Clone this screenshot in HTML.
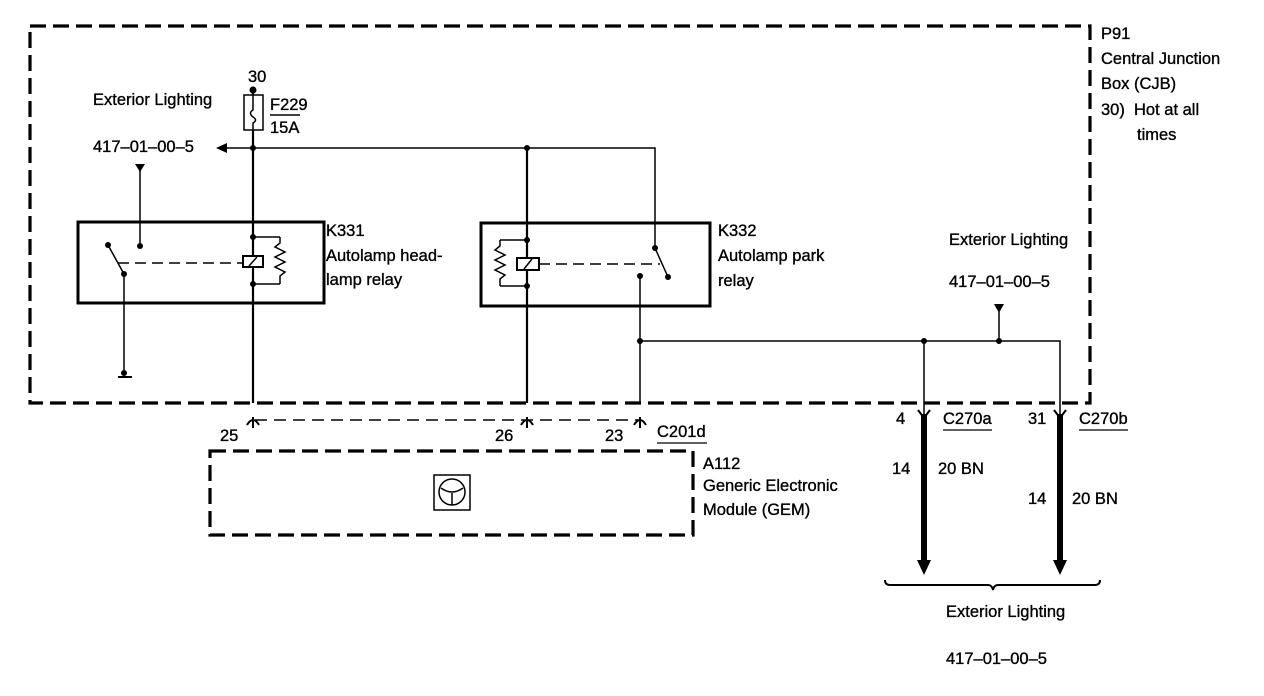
<!DOCTYPE html>
<html><head><meta charset="utf-8"><style>
html,body{margin:0;padding:0;background:#fff;}
svg{display:block;}
text{font-family:"Liberation Sans",Arial,sans-serif;font-size:16.5px;fill:#000;stroke:#000;stroke-width:0.35;}
</style></head><body>
<svg width="1264" height="696" viewBox="0 0 1264 696" xmlns="http://www.w3.org/2000/svg">
<g fill="none" stroke="#000">
<rect x="30" y="26" width="1060" height="377" stroke-width="3.2" stroke-dasharray="16,7"/>
<rect x="210" y="451" width="483" height="84" stroke-width="3.2" stroke-dasharray="16,7"/>
<rect x="78" y="222" width="246" height="81" stroke-width="3"/>
<rect x="481" y="223" width="229" height="83" stroke-width="3"/>
<rect x="244" y="95" width="19" height="35" stroke-width="1.5"/>
<path d="M253 95 V110 q-5 3 0 7 q5 3 0 6 V130" stroke-width="1.5"/>
<path d="M253 90 V95 M253 130 V403" stroke-width="2.2"/>
<path d="M226 148 H655 V248" stroke-width="1.5"/>
<path d="M527 148 V403" stroke-width="2.2"/>
<path d="M253 237 H280 M253 284 H280" stroke-width="1.5"/>
<path d="M280 237 V243 l-5 4 l10 5 l-10 5 l10 5 l-10 5 l10 5 l-5 4 V284" stroke-width="1.5"/>
<rect x="243" y="256" width="20" height="11" stroke-width="2" fill="#fff"/>
<path d="M249 266 l8 -9" stroke-width="1.5"/>
<path d="M118 263 H243" stroke-width="1.5" stroke-dasharray="11,6"/>
<path d="M108 245 L124 274 M124 274 V373" stroke-width="1.5"/>
<path d="M140 246 V168" stroke-width="1.5"/>
<path d="M118 377 H132" stroke-width="2"/>
<path d="M527 240 H500 M527 286 H500" stroke-width="1.5"/>
<path d="M500 240 V246 l-5 4 l10 5 l-10 5 l10 5 l-10 5 l10 5 l-5 4 V286" stroke-width="1.5"/>
<rect x="517" y="258" width="22" height="12" stroke-width="2" fill="#fff"/>
<path d="M524 269 l8 -10" stroke-width="1.5"/>
<path d="M539 264 H660" stroke-width="1.5" stroke-dasharray="11,6"/>
<path d="M655 248 L668 277" stroke-width="1.5"/>
<path d="M640 276 V403" stroke-width="1.5"/>
<path d="M640 341 H1060 V415 M924 341 V415 M999 341 V312" stroke-width="1.5"/>
<path d="M255 420 H640" stroke-width="1.5" stroke-dasharray="12,7"/>
<path d="M247 425 q6 -10 12 0 M253 417 V428" stroke-width="2"/>
<path d="M521 425 q6 -10 12 0 M527 417 V428" stroke-width="2"/>
<path d="M634 425 q6 -10 12 0 M640 417 V428" stroke-width="2"/>
<path d="M918 410 l6 8 l6 -8 M1054 410 l6 8 l6 -8" stroke-width="2"/>
<path d="M924 414 V562 M1060 414 V562" stroke-width="6"/>
<path d="M885 580 q0 5 5 5 H988 q4 0 5 5 q1 -5 5 -5 H1095 q5 0 5 -5" stroke-width="2"/>
<rect x="434" y="475" width="36" height="35" stroke-width="1.5"/>
<circle cx="452" cy="492" r="13" stroke-width="1.5"/>
<path d="M441 488 q11 8 22 0 M452 493 V505" stroke-width="1.5"/>
</g>
<g fill="#000">
<circle cx="253" cy="90" r="3.5"/>
<circle cx="253" cy="148" r="3"/>
<circle cx="527" cy="148" r="3"/>
<circle cx="253" cy="237" r="3"/>
<circle cx="253" cy="284" r="3"/>
<circle cx="108" cy="245" r="3"/>
<circle cx="124" cy="274" r="3"/>
<circle cx="140" cy="246" r="3"/>
<circle cx="124" cy="373" r="3"/>
<circle cx="527" cy="240" r="3"/>
<circle cx="527" cy="286" r="3"/>
<circle cx="655" cy="248" r="3"/>
<circle cx="668" cy="277" r="3"/>
<circle cx="640" cy="276" r="3"/>
<circle cx="640" cy="341" r="3"/>
<circle cx="924" cy="341" r="3"/>
<circle cx="999" cy="341" r="3"/>
<path d="M216 148 L227 143 L227 153 Z"/>
<path d="M135 164 H145 L140 172 Z"/>
<path d="M994 304 H1004 L999 313 Z"/>
<path d="M917 560 H931 L924 575 Z"/>
<path d="M1053 560 H1067 L1060 575 Z"/>
</g>
<text x="248" y="82">30</text>
<text x="93" y="105">Exterior Lighting</text>
<text x="270" y="110">F229</text>
<path d="M270 115 H300" stroke="#000" stroke-width="1.5"/>
<text x="270" y="133">15A</text>
<text x="93" y="152">417–01–00–5</text>
<text x="326" y="236">K331</text>
<text x="326" y="261">Autolamp head-</text>
<text x="326" y="285">lamp relay</text>
<text x="718" y="236">K332</text>
<text x="718" y="261">Autolamp park</text>
<text x="718" y="286">relay</text>
<text x="949" y="245">Exterior Lighting</text>
<text x="949" y="287">417–01–00–5</text>
<text x="1101" y="39">P91</text>
<text x="1101" y="64">Central Junction</text>
<text x="1101" y="89">Box (CJB)</text>
<text x="1101" y="115">30)&#160;&#160;Hot at all</text>
<text x="1137" y="140">times</text>
<text x="220" y="441">25</text>
<text x="495" y="441">26</text>
<text x="605" y="441">23</text>
<text x="657" y="437">C201d</text>
<path d="M657 443 H707" stroke="#000" stroke-width="1.2"/>
<text x="703" y="469">A112</text>
<text x="703" y="491">Generic Electronic</text>
<text x="703" y="515">Module (GEM)</text>
<text x="896" y="424">4</text>
<text x="943" y="424">C270a</text>
<path d="M943 430 H992" stroke="#000" stroke-width="1.2"/>
<text x="1028" y="424">31</text>
<text x="1079" y="424">C270b</text>
<path d="M1079 430 H1128" stroke="#000" stroke-width="1.2"/>
<text x="892" y="474">14</text>
<text x="938" y="474">20 BN</text>
<text x="1028" y="504">14</text>
<text x="1072" y="504">20 BN</text>
<text x="946" y="617">Exterior Lighting</text>
<text x="946" y="664">417–01–00–5</text>
</svg>
</body></html>
